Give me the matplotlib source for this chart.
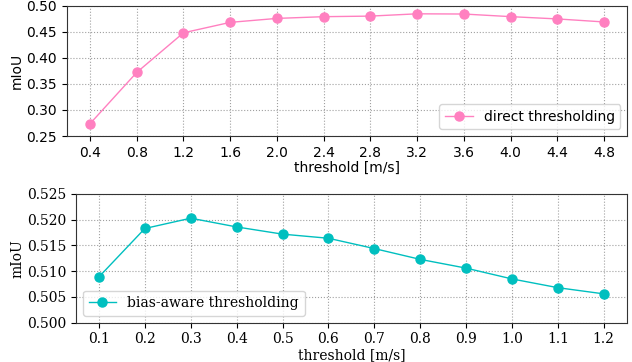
import matplotlib
matplotlib.use('Agg')
import matplotlib.pyplot as plt
from matplotlib.ticker import FormatStrFormatter

# direct thresholding (top)
thr_direct = [0.4, 0.8, 1.2, 1.6, 2.0, 2.4, 2.8, 3.2, 3.6, 4.0, 4.4, 4.8]
miou_direct = [0.2736, 0.372, 0.448, 0.468, 0.4756, 0.4789, 0.480, 0.4844, 0.484, 0.479, 0.4746, 0.4688]

# bias-aware thresholding (bottom)
thr_bias = [0.1, 0.2, 0.3, 0.4, 0.5, 0.6, 0.7, 0.8, 0.9, 1.0, 1.1, 1.2]
miou_bias = [0.5089, 0.5183, 0.5203, 0.5186, 0.5172, 0.5164, 0.5144, 0.5123, 0.5106, 0.5085, 0.5068, 0.5056]

FS = 10

fig = plt.figure(figsize=(6.32, 3.62), dpi=100)

# top panel, sans font
ax1 = fig.add_axes([0.1055, 0.6243, 0.8871, 0.36])
ax1.plot(thr_direct, miou_direct, label="direct thresholding", linestyle='-', marker='o',
         markersize=6.5, linewidth=1.0, color='#ff80c0')
ax1.set_xlim(0.2, 5.0)
ax1.set_ylim(0.25, 0.50)
ax1.set_xticks(thr_direct)
ax1.set_yticks([0.25, 0.30, 0.35, 0.40, 0.45, 0.50])
ax1.yaxis.set_major_formatter(FormatStrFormatter('%.2f'))
ax1.xaxis.set_major_formatter(FormatStrFormatter('%.1f'))
ax1.grid(True, linestyle=':', color='#a0a0a0', linewidth=0.8)
ax1.tick_params(labelsize=FS)
ax1.set_xlabel('threshold [m/s]', fontsize=FS, labelpad=1)
ax1.set_ylabel('mIoU', fontsize=FS, labelpad=2)
ax1.legend(loc='lower right', fontsize=FS)

# bottom panel, serif font
ax2 = fig.add_axes([0.1203, 0.1086, 0.8713, 0.3555])
ax2.plot(thr_bias, miou_bias, label="bias-aware thresholding", linestyle='-', marker='o',
         markersize=6.5, linewidth=1.0, color='#00bfbf')
ax2.set_xlim(0.05, 1.25)
ax2.set_ylim(0.500, 0.525)
ax2.set_xticks(thr_bias)
ax2.set_yticks([0.500, 0.505, 0.510, 0.515, 0.520, 0.525])
ax2.yaxis.set_major_formatter(FormatStrFormatter('%.3f'))
ax2.xaxis.set_major_formatter(FormatStrFormatter('%.1f'))
ax2.grid(True, linestyle=':', color='#a0a0a0', linewidth=0.8)
ax2.tick_params(labelsize=FS)
for lbl in ax2.get_xticklabels() + ax2.get_yticklabels():
    lbl.set_family('DejaVu Serif')
ax2.set_xlabel('threshold [m/s]', fontsize=FS, family='DejaVu Serif', labelpad=1)
ax2.set_ylabel('mIoU', fontsize=FS, family='DejaVu Serif', labelpad=2)
ax2.legend(loc='lower left', prop={'family': 'DejaVu Serif', 'size': FS})

for ax in (ax1, ax2):
    for s in ax.spines.values():
        s.set_color('#333333')

fig.savefig('out.png', dpi=100)
